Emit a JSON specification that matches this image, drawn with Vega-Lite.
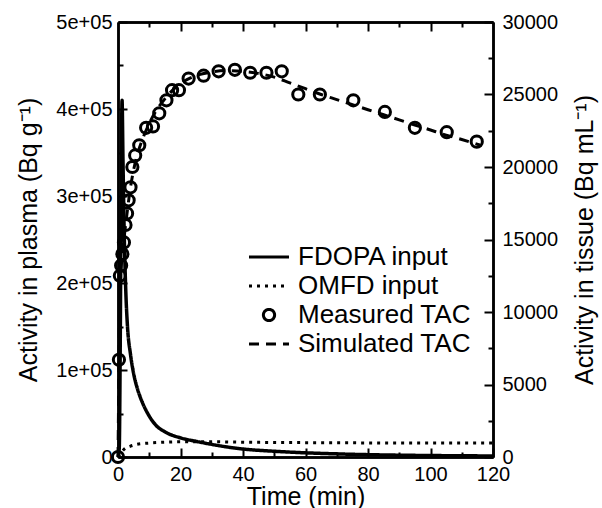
{
  "$schema": "https://vega.github.io/schema/vega-lite/v6.json",
  "width": 375,
  "height": 435,
  "autosize": {"type": "none"},
  "padding": {"left": 118, "top": 22, "right": 109, "bottom": 51},
  "background": "white",
  "config": {
    "view": {"stroke": null},
    "font": "Liberation Sans",
    "axis": {
      "domainColor": "black", "domainWidth": 2.5,
      "tickColor": "black", "tickWidth": 2,
      "labelFont": "Liberation Sans", "labelFontSize": 20, "labelColor": "black",
      "titleFont": "Liberation Sans", "titleFontSize": 25, "titleFontWeight": "normal", "titleColor": "black",
      "grid": false, "labelOverlap": false, "labelFlush": false, "labelBound": false
    },
    "legend": {
      "orient": "none", "legendX": 138, "legendY": 222,
      "labelFont": "Liberation Sans", "labelFontSize": 26, "labelColor": "black", "labelLimit": 0,
      "symbolSize": 400, "symbolStrokeWidth": 3, "symbolStrokeColor": "black", "symbolFillColor": "transparent",
      "labelOffset": 16, "rowPadding": 3, "padding": 0
    }
  },
  "resolve": {"scale": {"x": "independent", "y": "independent"}},
  "layer": [
    {
      "data": {"values": [
        {"t": 0, "value": 0, "series": "FDOPA input"},
        {"t": 0.4, "value": 10000, "series": "FDOPA input"},
        {"t": 0.7, "value": 120000, "series": "FDOPA input"},
        {"t": 1.0, "value": 300000, "series": "FDOPA input"},
        {"t": 1.3, "value": 410000, "series": "FDOPA input"},
        {"t": 1.6, "value": 340000, "series": "FDOPA input"},
        {"t": 2.0, "value": 255000, "series": "FDOPA input"},
        {"t": 2.5, "value": 190000, "series": "FDOPA input"},
        {"t": 3.0, "value": 152000, "series": "FDOPA input"},
        {"t": 4.0, "value": 118000, "series": "FDOPA input"},
        {"t": 5.0, "value": 96000, "series": "FDOPA input"},
        {"t": 6.0, "value": 81000, "series": "FDOPA input"},
        {"t": 7.0, "value": 70000, "series": "FDOPA input"},
        {"t": 8.0, "value": 61000, "series": "FDOPA input"},
        {"t": 10, "value": 47000, "series": "FDOPA input"},
        {"t": 12, "value": 37000, "series": "FDOPA input"},
        {"t": 15, "value": 29000, "series": "FDOPA input"},
        {"t": 20, "value": 22000, "series": "FDOPA input"},
        {"t": 25, "value": 18000, "series": "FDOPA input"},
        {"t": 30, "value": 14500, "series": "FDOPA input"},
        {"t": 35, "value": 11500, "series": "FDOPA input"},
        {"t": 40, "value": 9200, "series": "FDOPA input"},
        {"t": 50, "value": 6600, "series": "FDOPA input"},
        {"t": 60, "value": 4800, "series": "FDOPA input"},
        {"t": 70, "value": 3600, "series": "FDOPA input"},
        {"t": 80, "value": 2700, "series": "FDOPA input"},
        {"t": 90, "value": 2100, "series": "FDOPA input"},
        {"t": 100, "value": 1700, "series": "FDOPA input"},
        {"t": 110, "value": 1400, "series": "FDOPA input"},
        {"t": 120, "value": 1200, "series": "FDOPA input"}
      ]},
      "mark": {"type": "line", "color": "black", "strokeWidth": 3.5, "interpolate": "monotone"},
      "encoding": {
        "x": {"field": "t", "type": "quantitative", "scale": {"domain": [0, 120], "nice": false},
              "axis": {"orient": "bottom", "values": [0, 20, 40, 60, 80, 100, 120], "tickSize": -9, "labelPadding": 16, "title": "Time (min)", "titlePadding": 0}},
        "y": {"field": "value", "type": "quantitative", "scale": {"domain": [0, 500000], "nice": false},
              "axis": {"orient": "left", "values": [0, 100000, 200000, 300000, 400000, 500000], "tickSize": -9, "labelPadding": 15,
                       "labelExpr": "datum.value === 0 ? '0' : (datum.value / 100000) + 'e+05'",
                       "title": "Activity in plasma (Bq g⁻¹)", "titlePadding": 14}},
        "strokeDash": {"field": "series", "type": "nominal",
                       "scale": {"domain": ["FDOPA input", "OMFD input", "Measured TAC", "Simulated TAC"], "range": [[1, 0], [3, 5], [1, 0], [10, 7]]},
                       "legend": {"title": null}}
      }
    },
    {
      "data": {"values": [
        {"t": 0, "value": 0, "series": "OMFD input"},
        {"t": 1, "value": 5000, "series": "OMFD input"},
        {"t": 2, "value": 9000, "series": "OMFD input"},
        {"t": 4, "value": 12500, "series": "OMFD input"},
        {"t": 6, "value": 14500, "series": "OMFD input"},
        {"t": 10, "value": 16000, "series": "OMFD input"},
        {"t": 15, "value": 17000, "series": "OMFD input"},
        {"t": 20, "value": 17500, "series": "OMFD input"},
        {"t": 30, "value": 17500, "series": "OMFD input"},
        {"t": 40, "value": 17000, "series": "OMFD input"},
        {"t": 60, "value": 16500, "series": "OMFD input"},
        {"t": 80, "value": 16200, "series": "OMFD input"},
        {"t": 100, "value": 16000, "series": "OMFD input"},
        {"t": 120, "value": 16000, "series": "OMFD input"}
      ]},
      "mark": {"type": "line", "color": "black", "strokeWidth": 3, "interpolate": "monotone"},
      "encoding": {
        "x": {"field": "t", "type": "quantitative", "scale": {"domain": [0, 120], "nice": false},
              "axis": {"orient": "bottom", "values": [10, 30, 50, 70, 90, 110], "tickSize": -5, "labels": false, "title": null}},
        "y": {"field": "value", "type": "quantitative", "scale": {"domain": [0, 500000], "nice": false},
              "axis": {"orient": "left", "values": [50000, 150000, 250000, 350000, 450000], "tickSize": -5, "labels": false, "title": null}},
        "strokeDash": {"field": "series", "type": "nominal",
                       "scale": {"domain": ["FDOPA input", "OMFD input", "Measured TAC", "Simulated TAC"], "range": [[1, 0], [3, 5], [1, 0], [10, 7]]},
                       "legend": {"title": null}}
      }
    },
    {
      "data": {"values": [
        {"t": 0, "value": 0, "series": "Measured TAC"},
        {"t": 0.3, "value": 6700, "series": "Measured TAC"},
        {"t": 0.6, "value": 12500, "series": "Measured TAC"},
        {"t": 1.0, "value": 13200, "series": "Measured TAC"},
        {"t": 1.4, "value": 14000, "series": "Measured TAC"},
        {"t": 1.9, "value": 14800, "series": "Measured TAC"},
        {"t": 2.4, "value": 16000, "series": "Measured TAC"},
        {"t": 2.9, "value": 16800, "series": "Measured TAC"},
        {"t": 3.4, "value": 17700, "series": "Measured TAC"},
        {"t": 4.0, "value": 18600, "series": "Measured TAC"},
        {"t": 4.6, "value": 20000, "series": "Measured TAC"},
        {"t": 5.5, "value": 20800, "series": "Measured TAC"},
        {"t": 6.8, "value": 21500, "series": "Measured TAC"},
        {"t": 9.0, "value": 22700, "series": "Measured TAC"},
        {"t": 11.2, "value": 22800, "series": "Measured TAC"},
        {"t": 13.2, "value": 23700, "series": "Measured TAC"},
        {"t": 15.5, "value": 24600, "series": "Measured TAC"},
        {"t": 17.3, "value": 25300, "series": "Measured TAC"},
        {"t": 19.5, "value": 25300, "series": "Measured TAC"},
        {"t": 22.6, "value": 26100, "series": "Measured TAC"},
        {"t": 27.4, "value": 26300, "series": "Measured TAC"},
        {"t": 32.2, "value": 26600, "series": "Measured TAC"},
        {"t": 37.4, "value": 26700, "series": "Measured TAC"},
        {"t": 42.3, "value": 26500, "series": "Measured TAC"},
        {"t": 47.5, "value": 26500, "series": "Measured TAC"},
        {"t": 52.4, "value": 26600, "series": "Measured TAC"},
        {"t": 57.7, "value": 25000, "series": "Measured TAC"},
        {"t": 64.6, "value": 25000, "series": "Measured TAC"},
        {"t": 75.3, "value": 24600, "series": "Measured TAC"},
        {"t": 85.4, "value": 23800, "series": "Measured TAC"},
        {"t": 95.0, "value": 22700, "series": "Measured TAC"},
        {"t": 105.2, "value": 22400, "series": "Measured TAC"},
        {"t": 114.8, "value": 21750, "series": "Measured TAC"}
      ]},
      "mark": {"type": "point", "filled": false, "color": "black", "strokeWidth": 3, "size": 400, "opacity": 1},
      "encoding": {
        "x": {"field": "t", "type": "quantitative", "scale": {"domain": [0, 120], "nice": false},
              "axis": {"orient": "top", "values": [20, 40, 60, 80, 100], "tickSize": -9, "labels": false, "title": null}},
        "y": {"field": "value", "type": "quantitative", "scale": {"domain": [0, 30000], "nice": false},
              "axis": {"orient": "right", "values": [0, 5000, 10000, 15000, 20000, 25000, 30000], "tickSize": -9, "labelPadding": 18,
                       "format": "d", "title": "Activity in tissue (Bq mL⁻¹)", "titleAngle": 270, "titlePadding": 40}},
        "shape": {"field": "series", "type": "nominal",
                  "scale": {"domain": ["FDOPA input", "OMFD input", "Measured TAC", "Simulated TAC"],
                            "range": ["M-2,0H2", "M-2,0H2", "M-0.56,0A0.56,0.56 0 1,0 0.56,0A0.56,0.56 0 1,0 -0.56,0", "M-2,0H2"]},
                  "legend": {"title": null}}
      }
    },
    {
      "data": {"values": [
        {"t": 0, "value": 0, "series": "Simulated TAC"},
        {"t": 0.3, "value": 6000, "series": "Simulated TAC"},
        {"t": 0.6, "value": 11500, "series": "Simulated TAC"},
        {"t": 1, "value": 13000, "series": "Simulated TAC"},
        {"t": 1.5, "value": 14200, "series": "Simulated TAC"},
        {"t": 2, "value": 15200, "series": "Simulated TAC"},
        {"t": 3, "value": 17000, "series": "Simulated TAC"},
        {"t": 4, "value": 18600, "series": "Simulated TAC"},
        {"t": 5, "value": 19800, "series": "Simulated TAC"},
        {"t": 6, "value": 20700, "series": "Simulated TAC"},
        {"t": 8, "value": 22000, "series": "Simulated TAC"},
        {"t": 10, "value": 23000, "series": "Simulated TAC"},
        {"t": 12, "value": 23800, "series": "Simulated TAC"},
        {"t": 15, "value": 24700, "series": "Simulated TAC"},
        {"t": 18, "value": 25400, "series": "Simulated TAC"},
        {"t": 21, "value": 25900, "series": "Simulated TAC"},
        {"t": 25, "value": 26300, "series": "Simulated TAC"},
        {"t": 30, "value": 26550, "series": "Simulated TAC"},
        {"t": 35, "value": 26650, "series": "Simulated TAC"},
        {"t": 40, "value": 26600, "series": "Simulated TAC"},
        {"t": 45, "value": 26450, "series": "Simulated TAC"},
        {"t": 50, "value": 26200, "series": "Simulated TAC"},
        {"t": 55, "value": 25800, "series": "Simulated TAC"},
        {"t": 60, "value": 25400, "series": "Simulated TAC"},
        {"t": 65, "value": 25000, "series": "Simulated TAC"},
        {"t": 70, "value": 24650, "series": "Simulated TAC"},
        {"t": 75, "value": 24300, "series": "Simulated TAC"},
        {"t": 80, "value": 23950, "series": "Simulated TAC"},
        {"t": 85, "value": 23600, "series": "Simulated TAC"},
        {"t": 90, "value": 23250, "series": "Simulated TAC"},
        {"t": 95, "value": 22900, "series": "Simulated TAC"},
        {"t": 100, "value": 22550, "series": "Simulated TAC"},
        {"t": 105, "value": 22200, "series": "Simulated TAC"},
        {"t": 110, "value": 21900, "series": "Simulated TAC"},
        {"t": 116, "value": 21500, "series": "Simulated TAC"}
      ]},
      "mark": {"type": "line", "color": "black", "strokeWidth": 3, "interpolate": "monotone"},
      "encoding": {
        "x": {"field": "t", "type": "quantitative", "scale": {"domain": [0, 120], "nice": false},
              "axis": {"orient": "top", "values": [10, 30, 50, 70, 90, 110], "tickSize": -5, "labels": false, "title": null}},
        "y": {"field": "value", "type": "quantitative", "scale": {"domain": [0, 30000], "nice": false},
              "axis": {"orient": "right", "values": [2500, 7500, 12500, 17500, 22500, 27500], "tickSize": -5, "labels": false, "title": null}},
        "strokeDash": {"field": "series", "type": "nominal",
                       "scale": {"domain": ["FDOPA input", "OMFD input", "Measured TAC", "Simulated TAC"], "range": [[1, 0], [3, 5], [1, 0], [10, 7]]},
                       "legend": {"title": null}}
      }
    }
  ]
}
